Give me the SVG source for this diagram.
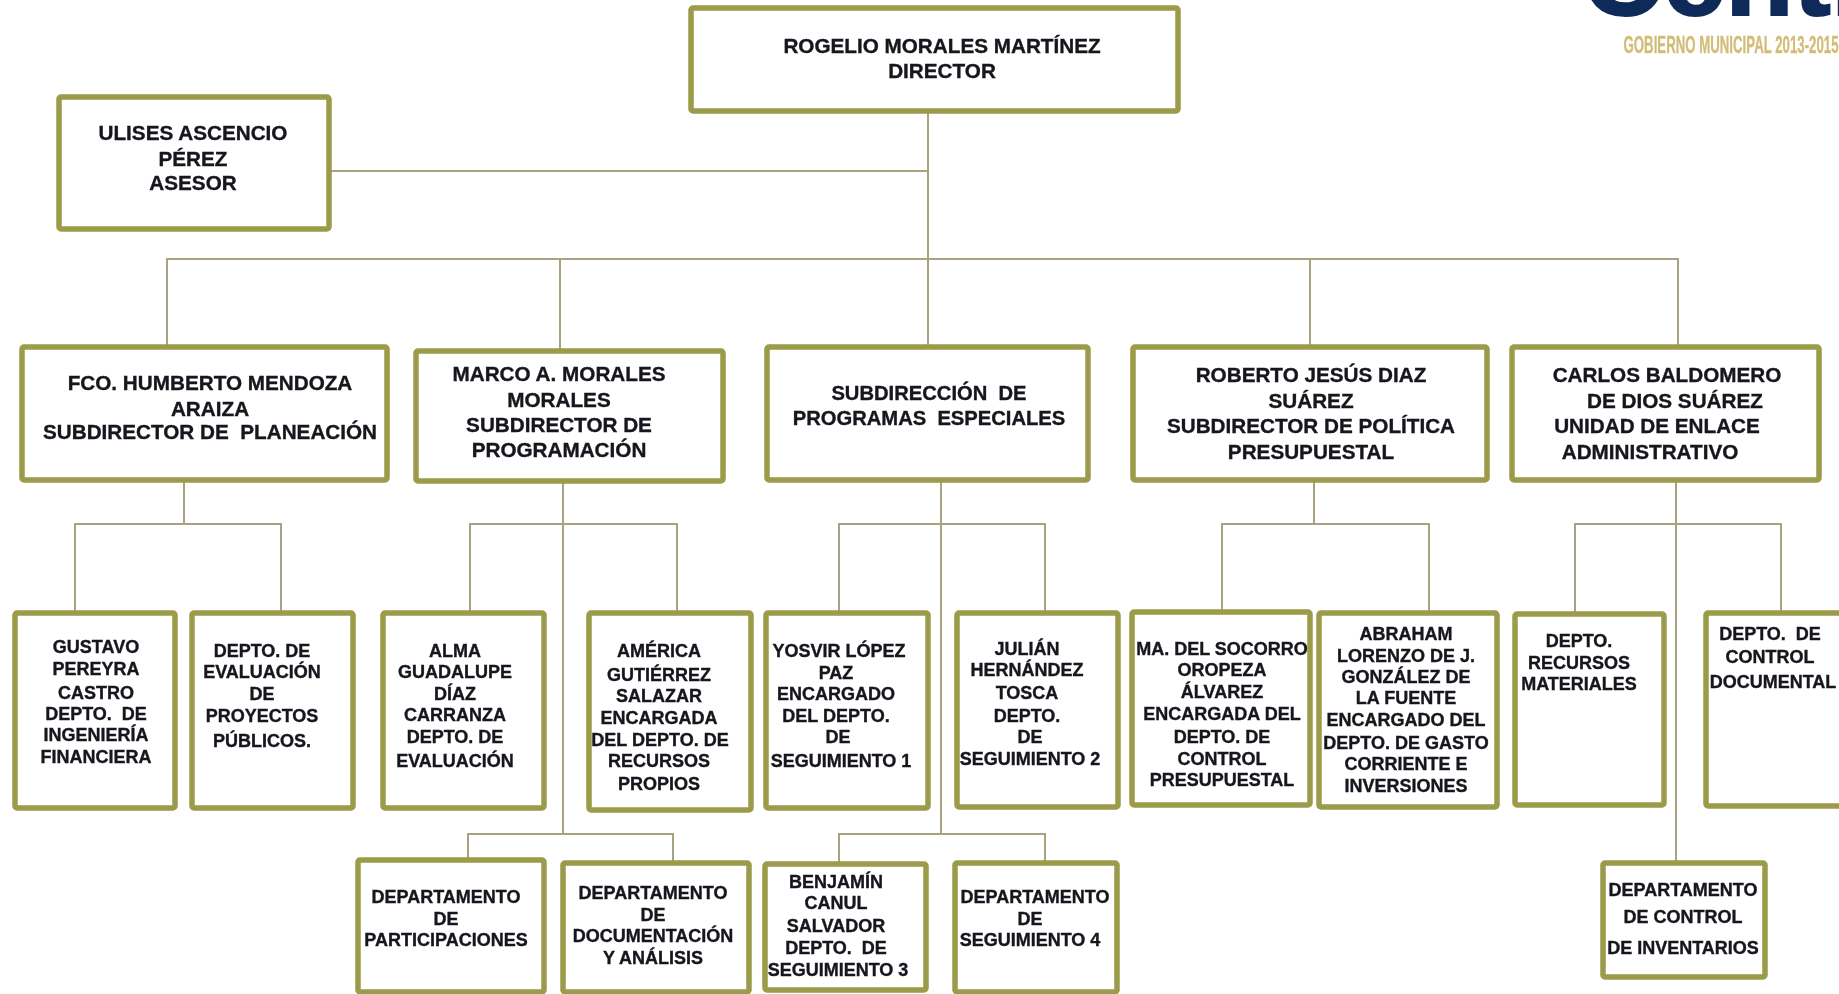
<svg xmlns="http://www.w3.org/2000/svg" width="1839" height="994" viewBox="0 0 1839 994">
<defs><filter id="soft" x="0" y="0" width="100%" height="100%" filterUnits="userSpaceOnUse" primitiveUnits="userSpaceOnUse"><feGaussianBlur stdDeviation="0.45"/></filter></defs>
<style>
text{font-family:"Liberation Sans",Arial,sans-serif;font-weight:bold;text-anchor:middle;fill:#14141c;stroke:#14141c;stroke-width:.35px;white-space:pre}
.b text{font-size:20.7px}.s text{font-size:18px}
#especiales text{font-size:20.2px}
rect{fill:#fff;stroke:#9c9b4a;stroke-width:5.5;rx:2px}
#connectors path{fill:none;stroke:#a8a27e;stroke-width:2}
</style>
<g filter="url(#soft)">
<rect x="-5" y="-5" width="1850" height="1004" style="fill:#fff;stroke:none"/>
<g id="logo">
<text x="1582" y="15" style="font-size:112px;stroke-width:2px;fill:#0e2a58;stroke:#0e2a58;text-anchor:start">Centr</text>
<text x="1731" y="53" textLength="215" lengthAdjust="spacingAndGlyphs" style="font-size:23px;fill:#d2bd78;stroke:#d2bd78">GOBIERNO MUNICIPAL 2013-2015</text>
</g>
<g id="connectors">
<path d="M928 111V347M329 171H928M167 347V259H1678V347M560 259V350M1310 259V347"/>
<path d="M184 481V524M75 613V524H281V613"/>
<path d="M563 482V834M470 612V524H677V612M468 860V834H673V863"/>
<path d="M941 481V834M839 612V524H1045V612M839 864V834H1045V862"/>
<path d="M1314 481V524M1222 612V524H1429V612"/>
<path d="M1676 481V862M1575 613V524H1781V612"/>
</g>
<g id="director" class="b"><rect x="691" y="8" width="487" height="103"/><text x="942" y="53">ROGELIO MORALES MARTÍNEZ</text><text x="942" y="78">DIRECTOR</text></g>
<g id="asesor" class="b"><rect x="59" y="97" width="270" height="132"/><text x="193" y="140">ULISES ASCENCIO</text><text x="193" y="166">PÉREZ</text><text x="193" y="190">ASESOR</text></g>
<g id="humberto" class="b"><rect x="22" y="347" width="365" height="133"/><text x="210" y="390">FCO. HUMBERTO MENDOZA</text><text x="210" y="416">ARAIZA</text><text x="210" y="439">SUBDIRECTOR DE  PLANEACIÓN</text></g>
<g id="marco" class="b"><rect x="416" y="351" width="307" height="130"/><text x="559" y="381">MARCO A. MORALES</text><text x="559" y="407">MORALES</text><text x="559" y="432">SUBDIRECTOR DE</text><text x="559" y="457">PROGRAMACIÓN</text></g>
<g id="especiales" class="b"><rect x="767" y="347" width="321" height="133"/><text x="929" y="400">SUBDIRECCIÓN  DE</text><text x="929" y="425">PROGRAMAS  ESPECIALES</text></g>
<g id="roberto" class="b"><rect x="1133" y="347" width="354" height="133"/><text x="1311" y="382">ROBERTO JESÚS DIAZ</text><text x="1311" y="408">SUÁREZ</text><text x="1311" y="433">SUBDIRECTOR DE POLÍTICA</text><text x="1311" y="459">PRESUPUESTAL</text></g>
<g id="carlos" class="b"><rect x="1512" y="347" width="307" height="133"/><text x="1667" y="382">CARLOS BALDOMERO</text><text x="1675" y="408">DE DIOS SUÁREZ</text><text x="1657" y="433">UNIDAD DE ENLACE</text><text x="1650" y="459">ADMINISTRATIVO</text></g>
<g id="gustavo" class="s"><rect x="15" y="613" width="160" height="195"/><text x="96" y="653">GUSTAVO</text><text x="96" y="675">PEREYRA</text><text x="96" y="699">CASTRO</text><text x="96" y="720">DEPTO.  DE</text><text x="96" y="741">INGENIERÍA</text><text x="96" y="763">FINANCIERA</text></g>
<g id="evaluacion-proyectos" class="s"><rect x="192" y="613" width="161" height="195"/><text x="262" y="657">DEPTO. DE</text><text x="262" y="678">EVALUACIÓN</text><text x="262" y="700">DE</text><text x="262" y="722">PROYECTOS</text><text x="262" y="747">PÚBLICOS.</text></g>
<g id="alma" class="s"><rect x="383" y="613" width="161" height="195"/><text x="455" y="657">ALMA</text><text x="455" y="678">GUADALUPE</text><text x="455" y="700">DÍAZ</text><text x="455" y="721">CARRANZA</text><text x="455" y="743">DEPTO. DE</text><text x="455" y="767">EVALUACIÓN</text></g>
<g id="america" class="s"><rect x="589" y="613" width="162" height="197"/><text x="659" y="657">AMÉRICA</text><text x="659" y="681">GUTIÉRREZ</text><text x="659" y="702">SALAZAR</text><text x="659" y="724">ENCARGADA</text><text x="660" y="746">DEL DEPTO. DE</text><text x="659" y="767">RECURSOS</text><text x="659" y="790">PROPIOS</text></g>
<g id="yosvir" class="s"><rect x="766" y="613" width="162" height="195"/><text x="839" y="657">YOSVIR LÓPEZ</text><text x="836" y="679">PAZ</text><text x="836" y="700">ENCARGADO</text><text x="836" y="722">DEL DEPTO.</text><text x="838" y="743">DE</text><text x="841" y="767">SEGUIMIENTO 1</text></g>
<g id="julian" class="s"><rect x="957" y="613" width="161" height="194"/><text x="1027" y="655">JULIÁN</text><text x="1027" y="676">HERNÁNDEZ</text><text x="1027" y="699">TOSCA</text><text x="1027" y="722">DEPTO.</text><text x="1030" y="743">DE</text><text x="1030" y="765">SEGUIMIENTO 2</text></g>
<g id="socorro" class="s"><rect x="1132" y="612" width="178" height="193"/><text x="1222" y="655">MA. DEL SOCORRO</text><text x="1222" y="676">OROPEZA</text><text x="1222" y="698">ÁLVAREZ</text><text x="1222" y="720">ENCARGADA DEL</text><text x="1222" y="743">DEPTO. DE</text><text x="1222" y="765">CONTROL</text><text x="1222" y="786">PRESUPUESTAL</text></g>
<g id="abraham" class="s"><rect x="1319" y="613" width="178" height="194"/><text x="1406" y="640">ABRAHAM</text><text x="1406" y="662">LORENZO DE J.</text><text x="1406" y="683">GONZÁLEZ DE</text><text x="1406" y="704">LA FUENTE</text><text x="1406" y="726">ENCARGADO DEL</text><text x="1406" y="749">DEPTO. DE GASTO</text><text x="1406" y="770">CORRIENTE E</text><text x="1406" y="792">INVERSIONES</text></g>
<g id="recursos-materiales" class="s"><rect x="1515" y="614" width="149" height="191"/><text x="1579" y="647">DEPTO.</text><text x="1579" y="669">RECURSOS</text><text x="1579" y="690">MATERIALES</text></g>
<g id="control-documental" class="s"><rect x="1706" y="613" width="146" height="193"/><text x="1770" y="640">DEPTO.  DE</text><text x="1770" y="663">CONTROL</text><text x="1773" y="688">DOCUMENTAL</text></g>
<g id="participaciones" class="s"><rect x="358" y="860" width="186" height="132"/><text x="446" y="903">DEPARTAMENTO</text><text x="446" y="925">DE</text><text x="446" y="946">PARTICIPACIONES</text></g>
<g id="documentacion" class="s"><rect x="563" y="863" width="186" height="129"/><text x="653" y="899">DEPARTAMENTO</text><text x="653" y="921">DE</text><text x="653" y="942">DOCUMENTACIÓN</text><text x="653" y="964">Y ANÁLISIS</text></g>
<g id="benjamin" class="s"><rect x="765" y="864" width="161" height="126"/><text x="836" y="888">BENJAMÍN</text><text x="836" y="909">CANUL</text><text x="836" y="932">SALVADOR</text><text x="836" y="954">DEPTO.  DE</text><text x="838" y="976">SEGUIMIENTO 3</text></g>
<g id="seguimiento4" class="s"><rect x="955" y="863" width="162" height="129"/><text x="1035" y="903">DEPARTAMENTO</text><text x="1030" y="925">DE</text><text x="1030" y="946">SEGUIMIENTO 4</text></g>
<g id="inventarios" class="s"><rect x="1603" y="863" width="162" height="114"/><text x="1683" y="896">DEPARTAMENTO</text><text x="1683" y="923">DE CONTROL</text><text x="1683" y="954">DE INVENTARIOS</text></g>
</g>
</svg>
